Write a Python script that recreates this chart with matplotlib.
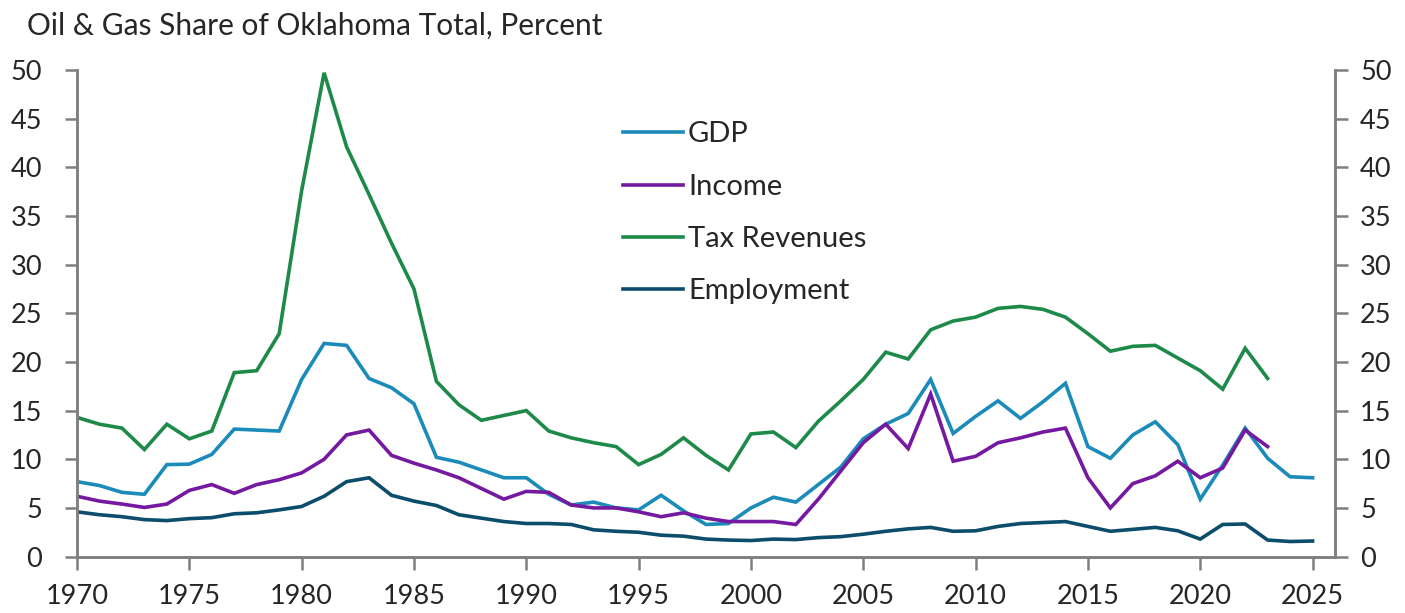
import matplotlib
matplotlib.use("Agg")
import matplotlib.pyplot as plt
import numpy as np

plt.rcParams['font.family'] = ['Lato', 'DejaVu Sans']

years = list(range(1970, 2026))

gdp = [7.7, 7.3, 6.6, 6.4, 9.45, 9.5, 10.5, 13.1, 13.0, 12.9,
       18.2, 21.9, 21.7, 18.3, 17.35, 15.7, 10.2, 9.7, 8.9, 8.1,
       8.1, 6.4, 5.3, 5.6, 5.0, 4.8, 6.3, 4.7, 3.3, 3.4,
       5.0, 6.1, 5.6, 7.4, 9.2, 12.1, 13.6, 14.7, 18.2, 12.65,
       14.4, 16.0, 14.2, 15.9, 17.8, 11.3, 10.1, 12.5, 13.85, 11.5,
       5.9, 9.4, 13.2, 10.1, 8.2, 8.1]

income = [6.2, 5.7, 5.4, 5.05, 5.4, 6.8, 7.4, 6.5, 7.4, 7.9,
          8.6, 10.0, 12.5, 13.0, 10.4, 9.6, 8.9, 8.1, 7.0, 5.9,
          6.7, 6.6, 5.3, 5.0, 5.0, 4.6, 4.1, 4.5, 3.95, 3.6,
          3.6, 3.6, 3.3, 5.9, 8.8, 11.7, 13.6, 11.1, 16.7, 9.8,
          10.3, 11.7, 12.2, 12.8, 13.2, 8.1, 5.0, 7.5, 8.3, 9.8,
          8.1, 9.1, 13.0, 11.3, None, None]

tax = [14.3, 13.6, 13.2, 11.0, 13.6, 12.1, 12.9, 18.9, 19.1, 22.9,
       37.6, 49.7, 42.1, 37.2, 32.2, 27.5, 18.0, 15.6, 14.0, 14.5,
       15.0, 12.9, 12.2, 11.7, 11.3, 9.45, 10.5, 12.2, 10.4, 8.9,
       12.6, 12.8, 11.2, 13.9, 16.0, 18.2, 21.0, 20.3, 23.3, 24.2,
       24.6, 25.5, 25.7, 25.4, 24.6, 22.9, 21.1, 21.6, 21.7, 20.4,
       19.1, 17.2, 21.4, 18.3, None, None]

employment = [4.6, 4.3, 4.1, 3.8, 3.7, 3.9, 4.0, 4.4, 4.5, 4.8,
              5.15, 6.2, 7.7, 8.1, 6.3, 5.7, 5.25, 4.3, 3.95, 3.6,
              3.4, 3.4, 3.3, 2.75, 2.6, 2.5, 2.2, 2.1, 1.8, 1.7,
              1.65, 1.8, 1.75, 1.95, 2.05, 2.3, 2.6, 2.85, 3.0, 2.6,
              2.65, 3.1, 3.4, 3.5, 3.6, 3.1, 2.6, 2.8, 3.0, 2.65,
              1.8, 3.3, 3.35, 1.7, 1.55, 1.6]

series = [("GDP", gdp, "#1b8bb9"),
          ("Income", income, "#7519a0"),
          ("Tax Revenues", tax, "#1e8a4a"),
          ("Employment", employment, "#0b4d6b")]

fig = plt.figure(figsize=(14.05, 6.13), dpi=100)
ax = fig.add_axes([0.0548, 0.092, 0.8954, 0.794])

for name, vals, col in series:
    v = np.array([np.nan if x is None else x for x in vals], dtype=float)
    ax.plot(years, v, color=col, lw=2.6, label=name, solid_joinstyle="miter")

spine_col = "#7f7f7f"
text_col = "#262626"
ax.set_xlim(1970, 2026)
ax.set_ylim(0, 50)
ax.set_xticks(range(1970, 2026, 5))
ax.set_yticks(range(0, 51, 5))

# right-hand copy of the y axis (own padding)
ax2 = ax.twinx()
ax2.set_ylim(0, 50)
ax2.set_yticks(range(0, 51, 5))

for a in (ax, ax2):
    a.spines["top"].set_visible(False)
    for s in ["left", "bottom", "right"]:
        a.spines[s].set_color(spine_col)
        a.spines[s].set_linewidth(1.8)
    a.tick_params(direction="out", length=9, width=1.8, color=spine_col,
                  labelsize=19.5, labelcolor=text_col)
ax.tick_params(axis="y", pad=16)
ax.tick_params(axis="x", pad=11)
ax2.tick_params(axis="y", pad=9)

fig.text(0.019, 0.958, "Oil & Gas Share of Oklahoma Total, Percent",
         fontsize=21.5, color=text_col, va="center", ha="left")

ax.legend(loc="upper left", bbox_to_anchor=(0.425, 0.918), frameon=False,
          fontsize=21, handlelength=2.05, handletextpad=0.17, labelspacing=0.9,
          labelcolor=text_col, borderaxespad=0)

fig.savefig("out.png", dpi=100)
